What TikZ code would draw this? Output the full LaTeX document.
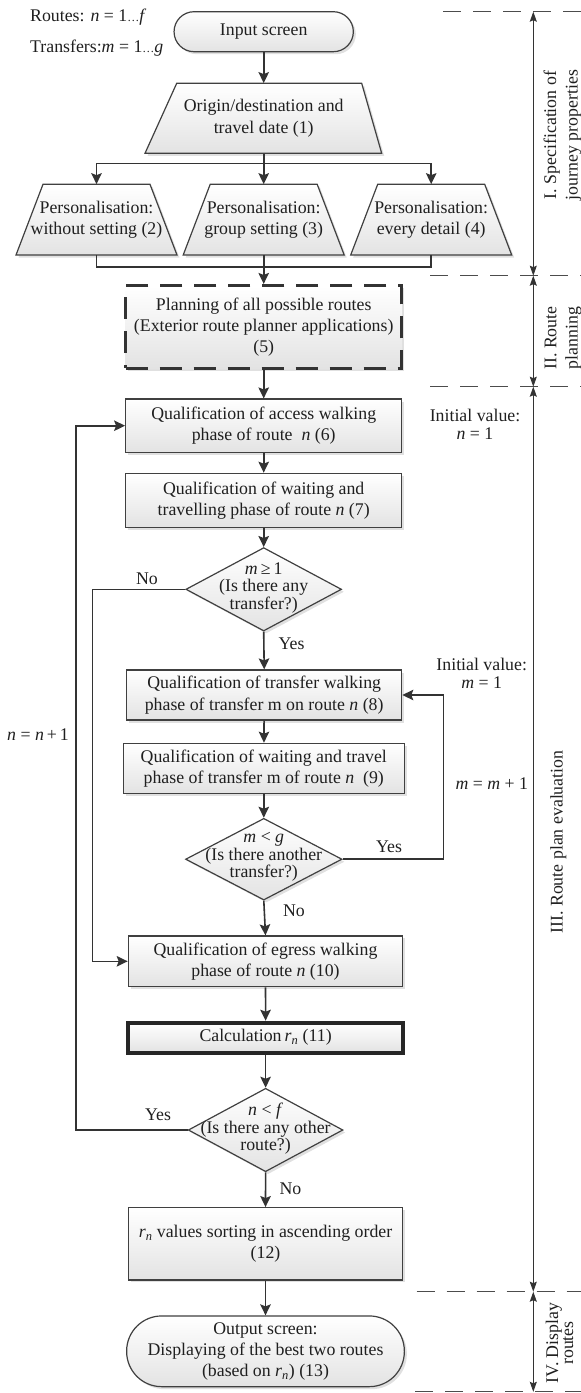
\documentclass[tikz,border=0pt]{standalone}
\usepackage{fontspec}
\setmainfont{Liberation Serif}
\usetikzlibrary{arrows.meta,shadows,calc,shapes.geometric}
\newcommand\myfs{\fontsize{17.8pt}{21.3pt}\selectfont}
\newcommand\myfsd{\fontsize{17.8pt}{17.6pt}\selectfont}
\newcommand\myfsn{\fontsize{17.8pt}{17.8pt}\selectfont}
\newcommand\myfsiv{\fontsize{17.8pt}{15pt}\selectfont}
\newcommand\vi[1]{\textit{#1}}
\newcommand\rsub{\textit{r}\textsubscript{\textit{n}}}
\newcommand\sdots{{\fontsize{12pt}{12pt}\selectfont …}}
\tikzset{
  txt/.style={font=\myfs, text=black!88, align=center, inner sep=0pt},
  fillsh/.style={top color=white, bottom color=black!11,
    drop shadow={shadow xshift=2.5pt, shadow yshift=-2.5pt, fill=black!35, opacity=0.35}},
  shp/.style={draw=black!75, line width=1.2pt, fillsh},
  box/.style={txt, shp},
  dashbox/.style={line width=3.5pt, draw=black!80, dash pattern=on 22pt off 12pt},
  thickbox/.style={line width=4pt, draw=black!85},
  dec/.style={shape=diamond, shp, inner sep=0pt},
  ln/.style={line width=1.6pt, draw=black!80},
  arr/.style={ln, -{Stealth[length=11pt,width=10.5pt,inset=2pt]}},
  sec/.style={line width=0.9pt, draw=black!80,
    {Stealth[length=10pt,width=7pt,inset=1.5pt]}-{Stealth[length=10pt,width=7pt,inset=1.5pt]}},
  secdash/.style={line width=1pt, draw=black!70, dash pattern=on 18pt off 12pt},
}
\begin{document}
\begin{tikzpicture}[x=1pt,y=-1pt]
\useasboundingbox (0,0) rectangle (581,1393);

% input screen
\node[box, minimum width=179.3, minimum height=40, rounded corners=20pt] (in) at (263.7,31.7) {Input screen};

% top-left notes
\node[txt, anchor=west] (notea) at (30,16.7) {Routes: \vi{n} = 1\sdots\vi{f}};
\node[txt, anchor=west] (noteb) at (30,48.3) {Transfers:\vi{m} = 1\sdots\vi{g}};

% trapezoids
\path[shp] (176.7,83.3) -- (361.7,83.3) -- (381.7,153.3) -- (145,153.3) -- cycle;
\node[txt, minimum width=236.7, minimum height=70] (t1) at (263.7,118.3) {Origin/destination and\\travel date (1)};

\path[shp] (43,184.3) -- (150,184.3) -- (177,255) -- (16,255) -- cycle;
\node[txt, minimum width=161, minimum height=70.7] (t2) at (96.5,219.7) {Personalisation:\\without setting (2)};

\path[shp] (210.2,184.3) -- (317.2,184.3) -- (344.2,255) -- (183.2,255) -- cycle;
\node[txt, minimum width=161, minimum height=70.7] (t3) at (263.7,219.7) {Personalisation:\\group setting (3)};

\path[shp] (377.7,184.3) -- (484.7,184.3) -- (511.7,255) -- (350.7,255) -- cycle;
\node[txt, minimum width=161, minimum height=70.7] (t4) at (431.2,219.7) {Personalisation:\\every detail (4)};

% main boxes
\node[box, dashbox, minimum width=276, minimum height=82.6] (b5) at (263.7,327) {Planning of all possible routes\\(Exterior route planner applications)\\(5)};
\node[box, minimum width=276, minimum height=53.3] (b6) at (263.7,425.7) {Qualification of access walking\\phase of route~~\vi{n} (6)};
\node[box, minimum width=276, minimum height=54.4] (b7) at (263.7,500.5) {Qualification of waiting and\\travelling phase of route \vi{n} (7)};
\node[dec, minimum width=155.7, minimum height=83.4] (d1) at (263.7,589.3) {};
\node[txt, font=\myfsd] (d1t) at (263.7,588) {\vi{m}\,≥\,1\\(Is there any\\transfer?)};
\node[box, minimum width=275, minimum height=50] (b8) at (264.2,695) {Qualification of transfer walking\\phase of transfer m on route \vi{n} (8)};
\node[box, minimum width=281, minimum height=50] (b9) at (263.8,768.3) {Qualification of waiting and travel\\phase of transfer m of route \vi{n}~~(9)};
\node[dec, minimum width=156.5, minimum height=81.7] (d2) at (263.8,859.2) {};
\node[txt, font=\myfsd] (d2t) at (263.8,857) {\vi{m} < \vi{g}\\(Is there another\\transfer?)};
\node[box, minimum width=274.4, minimum height=50.7] (b10) at (265.5,961.3) {Qualification of egress walking\\phase of route \vi{n} (10)};
\node[box, thickbox, minimum width=274.7, minimum height=30] (b11) at (265.6,1037.7) {Calculation\,\rsub{} (11)};
\node[dec, minimum width=154.7, minimum height=83.4] (d3) at (265.6,1130) {};
\node[txt, font=\myfsd] (d3t) at (265.6,1129) {\vi{n} < \vi{f}\\(Is there any other\\route?)};
\node[box, minimum width=274.3, minimum height=72.3] (b12) at (265.5,1243.8) {\rsub{} values sorting in ascending order\\(12)};
\node[box, minimum width=277.7, minimum height=70.7, rounded corners=35pt] (b13) at (265.5,1351.3) {Output screen:\\Displaying of the best two routes\\(based on \rsub) (13)};

% connectors top part
\draw[arr] (in) -- (t1.north);
\coordinate (br) at (263.7,163.3);
\draw[ln] (t1.south) -- (br);
\draw[arr] (br) -| (t2.north);
\draw[arr] (br) -| (t4.north);
\draw[arr] (br) -- (t3.north);
\coordinate (jn) at (263.7,266.7);
\draw[ln] (t2.south) |- (jn);
\draw[ln] (t4.south) |- (jn);
\draw[arr] (t3.south) -- (b5.north);

% main chain
\draw[arr] (b5) -- (b6);
\draw[arr] (b6) -- (b7);
\draw[arr] (b7) -- (d1.north);
\draw[arr] (d1.south) -- (b8.north);
\draw[arr] (b8) -- (b9);
\draw[arr] (b9) -- (d2.north);
\draw[arr] (d2.south) -- (b10.north);
\draw[arr] (b10) -- (b11);
\draw[arr] (b11) -- (d3.north);
\draw[arr] (d3.south) -- (b12.north);
\draw[arr] (b12) -- (b13);

% loops
\coordinate (nol) at (92.3,589.3);
\draw[arr] (d1.west) -- (nol) |- (b10.west);
\coordinate (lpm) at (443.3,859.2);
\draw[arr] (d2.east) -- (lpm) |- (b8.east);
\coordinate (lpn) at (75.7,1130);
\draw[arr] (d3.west) -- (lpn) |- (b6.west);

% edge labels
\node[txt] (l1) at (147,578.3) {No};
\node[txt] (l2) at (291.5,643.3) {Yes};
\node[txt] (l3) at (389,846.7) {Yes};
\node[txt] (l4) at (294,911) {No};
\node[txt] (l5) at (158,1115) {Yes};
\node[txt] (l6) at (290.5,1189) {No};

% side notes
\node[txt, font=\myfsn] (iv1) at (475,424) {Initial value:\\\vi{n} = 1};
\node[txt, font=\myfsn] (iv2) at (481.7,673.5) {Initial value:\\\vi{m} = 1};
\node[txt] (mm) at (491.8,783.3) {\vi{m} = \vi{m} + 1};
\node[txt] (nn) at (38,735) {\vi{n} = \vi{n}\,+\,1};

% section markers
\draw[secdash] (443,11.7) -- (581,11.7);
\draw[secdash] (430,275.7) -- (581,275.7);
\draw[secdash] (430,386.7) -- (581,386.7);
\draw[secdash] (416.7,1291.7) -- (581,1291.7);
\draw[secdash] (415,1391.8) -- (581,1391.8);
\coordinate (s0) at (533.3,11.7);
\coordinate (s1) at (533.3,275.7);
\coordinate (s2) at (533.3,386.7);
\coordinate (s3) at (533.3,1291.7);
\coordinate (s4) at (533.3,1391.8);
\draw[sec] (s0) -- (s1);
\draw[sec] (s1) -- (s2);
\draw[sec] (s2) -- (s3);
\draw[sec] (s3) -- (s4);
\node[txt, rotate=90] (secI) at (562.5,135) {I. Specification of\\journey properties};
\node[txt, rotate=90] (secII) at (563,338) {II. Route\\planning};
\node[txt, rotate=90] (secIII) at (558.3,842) {III. Route plan evaluation};
\node[txt, rotate=90, font=\myfsiv] (secIV) at (559.5,1343) {IV. Display\\routes};
\end{tikzpicture}
\end{document}
